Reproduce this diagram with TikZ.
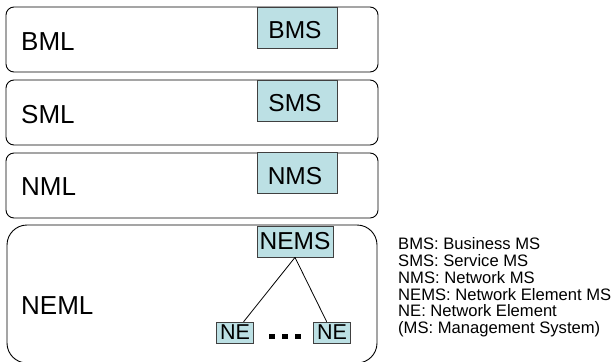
\documentclass[tikz,border=0pt]{standalone}
\usepackage{fontspec}
\setmainfont{Liberation Sans}
\usepackage{xcolor}
\definecolor{msfill}{RGB}{188,224,228}

\begin{document}
\begin{tikzpicture}[x=1bp,y=-1bp,line cap=round,
  layer/.style={draw=black,line width=0.9bp,rounded corners=8bp,minimum width=372bp,minimum height=65bp,inner sep=0pt},
  lname/.style={anchor=west,inner sep=0pt,font=\fontsize{26bp}{28bp}\selectfont},
  msbox/.style={draw=black!75,fill=msfill,line width=0.8bp,minimum width=80bp,minimum height=41bp,inner sep=0pt,font=\fontsize{24.5bp}{26bp}\selectfont},
  nebox/.style={draw=black!75,fill=msfill,line width=0.8bp,minimum width=37.5bp,minimum height=21bp,inner sep=0pt,font=\fontsize{21.5bp}{23bp}\selectfont}]
\useasboundingbox (0,0) rectangle (616,361);
% management layers
\node[layer] (bml) at (192,39.5) {};
\node[layer] (sml) at (192,112.5) {};
\node[layer] (nml) at (192,185.5) {};
\draw[line width=0.9bp,rounded corners=20bp] (7,363) -- (7,225) -- (377,225) -- (377,363) -- cycle;
\node[lname] (bmllbl) at (21,42) {BML};
\node[lname] (smllbl) at (21,115) {SML};
\node[lname] (nmllbl) at (21,187) {NML};
\node[lname] (nemllbl) at (21,306) {NEML};
% management systems
\node[msbox] (bms) at (297,27.5) {};
\node at (295,30.5) [font=\fontsize{24.5bp}{26bp}\selectfont] {BMS};
\node[msbox] (sms) at (297,100.5) {};
\node at (295,103.5) [font=\fontsize{24.5bp}{26bp}\selectfont] {SMS};
\node[msbox] (nms) at (297,173) {};
\node at (295,176) [font=\fontsize{24.5bp}{26bp}\selectfont] {NMS};
\node[msbox,minimum width=76bp,minimum height=31bp] (nems) at (295,241.5) {NEMS};
% network elements
\node[nebox] (ne1) at (235,332.5) {NE};
\node[nebox] (ne2) at (332,332.5) {NE};
\draw[line width=0.8bp] (nems.south) -- (ne1);
\draw[line width=0.8bp] (nems.south) -- (ne2);
\foreach \x in {272,285,298}
  \fill (\x-2.6,333.5) rectangle (\x+2.6,338.5);
% legend
\node[anchor=north west,inner sep=0pt,align=left,font=\fontsize{16.6bp}{16.8bp}\selectfont] (legend) at (398,237.5)
  {BMS: Business MS\\SMS: Service MS\\NMS: Network MS\\NEMS: Network Element MS\\NE: Network Element\\(MS: Management System)};
\end{tikzpicture}
\end{document}
